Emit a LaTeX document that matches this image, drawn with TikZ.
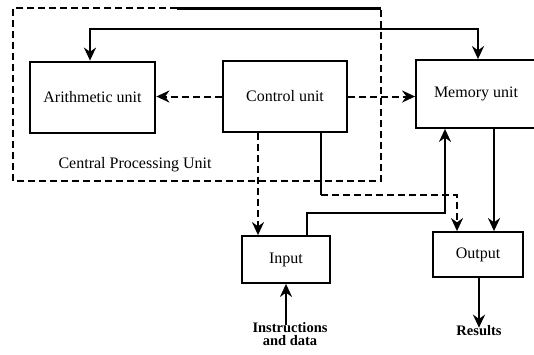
\documentclass[tikz,border=0pt]{standalone}
\usepackage{fontspec}
\setmainfont{Liberation Serif}
\usetikzlibrary{arrows.meta}
\begin{document}
\begin{tikzpicture}[x=1pt,y=-1pt,
  unitbox/.style={draw,line width=1.8pt,rectangle,inner sep=0pt,font=\fontsize{16}{18}\selectfont},
  solidline/.style={line width=2.6pt},
  dline/.style={line width=2pt,dash pattern=on 7pt off 4pt},
  tip/.style={-{Stealth[length=13pt,width=12pt]}},
  lbl/.style={font=\bfseries\fontsize{14.5}{13}\selectfont,align=center,inner sep=0pt}
]
\useasboundingbox (0,0) rectangle (534,354);
% CPU frame
\coordinate (cpuTL) at (13,8);
\coordinate (cpuBR) at (381,181);
\coordinate (cpuTM) at (177,8);
\draw[line width=1.6pt,dash pattern=on 7pt off 4pt] (cpuTM) -- (cpuTL) -- (cpuTL |- cpuBR) -- (cpuBR) -- (cpuBR |- cpuTL);
\draw[line width=3pt] (cpuTM) -- (cpuBR |- cpuTL);
\node[font=\fontsize{16}{18}\selectfont] (cpulbl) at (135,165) {Central Processing Unit};
% units
\node[unitbox,line width=2.8pt,minimum width=125pt,minimum height=71pt] (arith) at (92.5,97.5) {Arithmetic unit};
\node[unitbox,minimum width=124pt,minimum height=71pt] (control) at (285,96.5) {Control unit};
\node[unitbox,minimum width=120pt,minimum height=68pt] (memory) at (476,94) {Memory unit};
\node[unitbox,minimum width=88pt,minimum height=47pt] (input) at (286,259.5) {Input};
\node[unitbox,minimum width=90pt,minimum height=45pt] (output) at (478,254.5) {Output};
\node[lbl] (instr) at (290,334) {Instructions\\and data};
\node[lbl] (results) at (479,331) {Results};
% coordinates
\coordinate (t1) at (90,29);
\coordinate (t2) at (478,29);
\coordinate (c1) at (258,0);
\coordinate (b1) at (321,195);
\coordinate (b2) at (457,195);
\coordinate (c2) at (307,213);
\coordinate (c3) at (445,213);
\coordinate (m1) at (494,0);
% connectors
\draw[solidline,{Stealth[length=13pt,width=12pt]}-{Stealth[length=13pt,width=12pt]}] (arith.north -| t1) -- (t1) -- (t2) -- (memory.north -| t2);
\draw[dline,tip] (control.west) -- (arith.east |- control.west);
\draw[dline,tip] (control.east) -- (memory.west |- control.east);
\draw[dline,tip] (control.south -| c1) -- (input.north -| c1);
\draw[solidline] (control.south -| b1) -- (b1);
\draw[dline,tip] (b1) -- (b2) -- (output.north -| b2);
\draw[solidline,tip] (input.north -| c2) -- (c2) -- (c3) -- (memory.south -| c3);
\draw[solidline,tip] (memory.south -| m1) -- (output.north -| m1);
\draw[solidline,tip] (output.south -| results) -- ([yshift=-2pt]results.north);
\draw[solidline,tip] ([yshift=-3pt]instr.north -| input.south) -- (input.south);
\end{tikzpicture}
\end{document}
